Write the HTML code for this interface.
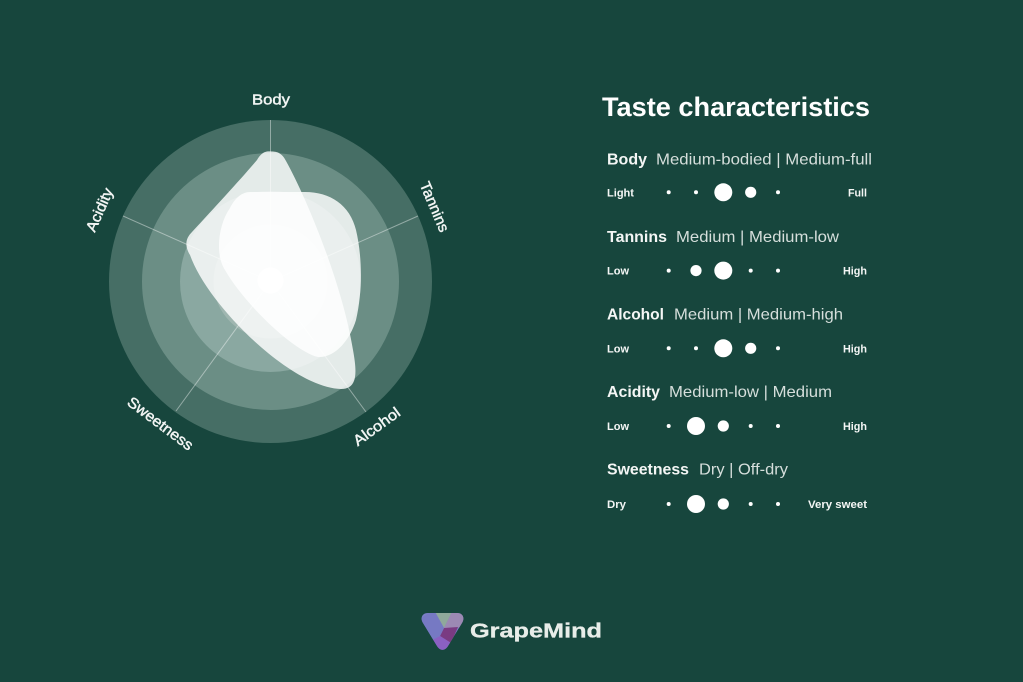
<!DOCTYPE html>
<html>
<head>
<meta charset="utf-8">
<style>
  html,body{margin:0;padding:0;background:#17463d;}
  svg{display:block;}
  text{font-family:"Liberation Sans",sans-serif;}
</style>
</head>
<body>
<svg width="1023" height="682" viewBox="0 0 1023 682" xmlns="http://www.w3.org/2000/svg">
  <rect width="1023" height="682" fill="#17463d"/>

  <!-- Radar rings -->
  <circle cx="270.5" cy="281.5" r="161.5" fill="#466e65"/>
  <circle cx="270.5" cy="281.5" r="128.5" fill="#6b8e85"/>
  <circle cx="270.5" cy="281.5" r="90.5" fill="#8aa8a1"/>
  <circle cx="270.5" cy="281.5" r="57" fill="#9fb6b0"/>

  <!-- Spokes -->
  <g stroke="#ffffff" stroke-opacity="0.42" stroke-width="1">
    <line x1="270.5" y1="281.5" x2="270.5" y2="120"/>
    <line x1="270.5" y1="281.5" x2="418" y2="216"/>
    <line x1="270.5" y1="281.5" x2="366" y2="412"/>
    <line x1="270.5" y1="281.5" x2="176" y2="411"/>
    <line x1="270.5" y1="281.5" x2="123" y2="216"/>
  </g>

  <!-- Shape 1 -->
  <path d="M257,160 C263,150 268,151.5 272,151.5 C277,151.5 282,153 286,161 C305,195 342,282 353,350 C357,372 358,389 341,389 C292,388 208,306 190,255 C184,245 186,238 192,232 C215,207 240,180 257,160 Z"
        fill="#ffffff" fill-opacity="0.82"/>
  <!-- Shape 2 -->
  <path d="M250,192 L305,192 C330,192 350,205 356,230 C362,255 363,290 356,320 C350,340 335,358 318,357 C295,352 245,305 225,270 C215,255 218,225 230,208 C235,198 242,192 250,192 Z"
        fill="#ffffff" fill-opacity="0.82"/>

  <!-- Center dot -->
  <circle cx="270.5" cy="280.5" r="13" fill="#ffffff"/>

  <!-- Radar labels -->
  <g fill="#f2f5f4" stroke="#f2f5f4" stroke-width="0.45" font-size="15" text-anchor="middle" dominant-baseline="central">
    <text x="271" y="100" textLength="38" lengthAdjust="spacingAndGlyphs">Body</text>
    <text x="434" y="207" transform="rotate(67 434 207)" textLength="53" lengthAdjust="spacingAndGlyphs">Tannins</text>
    <text x="377" y="427" transform="rotate(-36 377 427)" textLength="54" lengthAdjust="spacingAndGlyphs">Alcohol</text>
    <text x="160" y="424" transform="rotate(37 160 424)" textLength="78" lengthAdjust="spacingAndGlyphs">Sweetness</text>
    <text x="100" y="210" transform="rotate(-66 100 210)" textLength="46" lengthAdjust="spacingAndGlyphs">Acidity</text>
  </g>

  <!-- Title -->
  <text x="602" y="116" fill="#ffffff" font-size="27" font-weight="bold" textLength="268" lengthAdjust="spacingAndGlyphs">Taste characteristics</text>

  <!-- Rows -->
  <g font-size="16">
    <text x="607" y="164.3" fill="#f4f6f5" font-weight="bold" textLength="40" lengthAdjust="spacingAndGlyphs">Body</text>
    <text x="656" y="164.3" fill="#d6dfdc" textLength="216" lengthAdjust="spacingAndGlyphs">Medium-bodied | Medium-full</text>

    <text x="607" y="241.8" fill="#f4f6f5" font-weight="bold" textLength="60" lengthAdjust="spacingAndGlyphs">Tannins</text>
    <text x="676" y="241.8" fill="#d6dfdc" textLength="163" lengthAdjust="spacingAndGlyphs">Medium | Medium-low</text>

    <text x="607" y="319.3" fill="#f4f6f5" font-weight="bold" textLength="57" lengthAdjust="spacingAndGlyphs">Alcohol</text>
    <text x="674" y="319.3" fill="#d6dfdc" textLength="169" lengthAdjust="spacingAndGlyphs">Medium | Medium-high</text>

    <text x="607" y="396.8" fill="#f4f6f5" font-weight="bold" textLength="53" lengthAdjust="spacingAndGlyphs">Acidity</text>
    <text x="669" y="396.8" fill="#d6dfdc" textLength="163" lengthAdjust="spacingAndGlyphs">Medium-low | Medium</text>

    <text x="607" y="474.3" fill="#f4f6f5" font-weight="bold" textLength="82" lengthAdjust="spacingAndGlyphs">Sweetness</text>
    <text x="699" y="474.3" fill="#d6dfdc" textLength="89" lengthAdjust="spacingAndGlyphs">Dry | Off-dry</text>
  </g>

  <!-- Small scale labels -->
  <g font-size="11" font-weight="bold" fill="#f4f6f5">
    <text x="607" y="196.5" textLength="27" lengthAdjust="spacingAndGlyphs">Light</text>
    <text x="867" y="196.5" text-anchor="end" textLength="19" lengthAdjust="spacingAndGlyphs">Full</text>

    <text x="607" y="274.7" textLength="22" lengthAdjust="spacingAndGlyphs">Low</text>
    <text x="867" y="274.7" text-anchor="end" textLength="24" lengthAdjust="spacingAndGlyphs">High</text>

    <text x="607" y="352.3" textLength="22" lengthAdjust="spacingAndGlyphs">Low</text>
    <text x="867" y="352.3" text-anchor="end" textLength="24" lengthAdjust="spacingAndGlyphs">High</text>

    <text x="607" y="430" textLength="22" lengthAdjust="spacingAndGlyphs">Low</text>
    <text x="867" y="430" text-anchor="end" textLength="24" lengthAdjust="spacingAndGlyphs">High</text>

    <text x="607" y="508" textLength="19" lengthAdjust="spacingAndGlyphs">Dry</text>
    <text x="867" y="508" text-anchor="end" textLength="59" lengthAdjust="spacingAndGlyphs">Very sweet</text>
  </g>

  <!-- Dots -->
  <g fill="#ffffff">
    <circle cx="668.7" cy="192.3" r="2"/>
    <circle cx="696" cy="192.3" r="2"/>
    <circle cx="723.3" cy="192.3" r="9"/>
    <circle cx="750.7" cy="192.3" r="5.6"/>
    <circle cx="778" cy="192.3" r="2"/>

    <circle cx="668.7" cy="270.6" r="2"/>
    <circle cx="696" cy="270.6" r="5.6"/>
    <circle cx="723.3" cy="270.6" r="9"/>
    <circle cx="750.7" cy="270.6" r="2"/>
    <circle cx="778" cy="270.6" r="2"/>

    <circle cx="668.7" cy="348.3" r="2"/>
    <circle cx="696" cy="348.3" r="2"/>
    <circle cx="723.3" cy="348.3" r="9"/>
    <circle cx="750.7" cy="348.3" r="5.6"/>
    <circle cx="778" cy="348.3" r="2"/>

    <circle cx="668.7" cy="426" r="2"/>
    <circle cx="696" cy="426" r="9"/>
    <circle cx="723.3" cy="426" r="5.6"/>
    <circle cx="750.7" cy="426" r="2"/>
    <circle cx="778" cy="426" r="2"/>

    <circle cx="668.7" cy="504" r="2"/>
    <circle cx="696" cy="504" r="9"/>
    <circle cx="723.3" cy="504" r="5.6"/>
    <circle cx="750.7" cy="504" r="2"/>
    <circle cx="778" cy="504" r="2"/>
  </g>

  <!-- Logo icon -->
  <defs>
    <clipPath id="tri">
      <path d="M428,613 L457,613 C463,613 465,618 462,623 L448,646 C445,651 440,651 437,646 L423,623 C420,618 422,613 428,613 Z"/>
    </clipPath>
  </defs>
  <g clip-path="url(#tri)">
    <rect x="418" y="608" width="50" height="46" fill="#7b7ec6"/>
    <polygon points="434,610 453,610 444,628" fill="#8fa99b"/>
    <polygon points="453,610 468,610 468,626 456,628 444,628" fill="#9c89b3"/>
    <polygon points="444,628 458,627 451,643 440,636" fill="#7a3b82"/>
    <polygon points="440,636 451,643 446,654 430,648 432,640" fill="#8b60c2"/>
    <polygon points="418,620 434,610 444,628 440,636 432,640 418,640" fill="#7679c3"/>
  </g>

  <!-- Logo text -->
  <text x="470" y="637.5" fill="#e8ede9" stroke="#e8ede9" stroke-width="0.3" font-size="20" font-weight="bold" textLength="132" lengthAdjust="spacingAndGlyphs">GrapeMind</text>
</svg>
</body>
</html>
